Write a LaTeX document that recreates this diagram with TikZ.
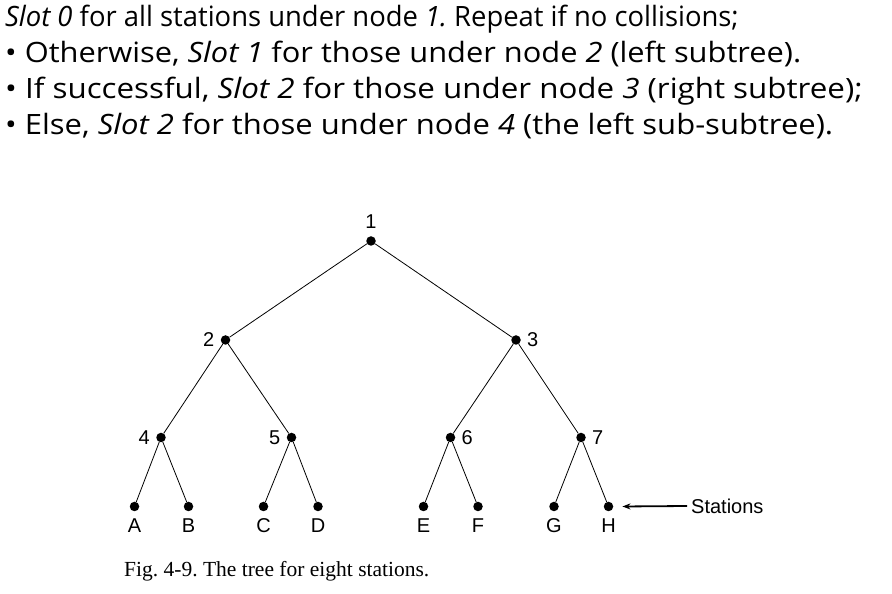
\documentclass[tikz,border=0pt]{standalone}
\usepackage{fontspec}
\setmainfont{Liberation Serif}
\newfontfamily\slidefont[FakeStretch=1.1]{Open Sans}
\newfontfamily\figfont{Liberation Sans}
\usetikzlibrary{arrows.meta,positioning}
\frenchspacing

\tikzset{
  dot/.style={circle,fill=black,inner sep=0pt,minimum size=9.5pt},
  num/.style={font=\figfont\fontsize{20}{20}\selectfont,inner sep=1pt},
  branch/.style={line width=0.8pt},
  slide/.style={anchor=base west,inner sep=0pt,transform shape,font=\slidefont\fontsize{28}{36}\selectfont}
}

\begin{document}
\begin{tikzpicture}[x=1pt,y=1pt,every label/.style={num},label distance=5pt]
\useasboundingbox (0,0) rectangle (892,594);

% slide text
\foreach \t/\w [count=\n] in {
  {\textit{Slot 0} for all stations under node \textit{1.} Repeat if no collisions;}/0.89,
  {\textbullet\ Otherwise, \textit{Slot 1} for those under node \textit{2} (left subtree).}/1,
  {\textbullet\ If successful, \textit{Slot 2} for those under node \textit{3} (right subtree);}/1.017,
  {\textbullet\ Else, \textit{Slot 2} for those under node \textit{4} (the left sub-subtree).}/1.006}
  \node[slide,xscale=\w] (line\n) at (5,603-36*\n) {\t};

% inner nodes
\node[dot,label={[label distance=6pt]above:1}] (n1) at (371,353) {};
\node[dot,label=left:2]  (n2) at (225.5,254) {};
\node[dot,label=right:3] (n3) at (516,254) {};
\node[dot,label=left:4]  (n4) at (161,156.5) {};
\node[dot,label=left:5]  (n5) at (291.5,156.5) {};
\node[dot,label=right:6] (n6) at (450.5,156.5) {};
\node[dot,label=right:7] (n7) at (581,156.5) {};

% stations
\foreach \s/\x in {A/134.5,B/188.5,C/263.5,D/318,E/423.5,F/478,G/554,H/608.5}
  \node[dot,label={[label distance=6pt]below:\s}] (\s) at (\x,87.5) {};

\foreach \a/\b in {n1/n2,n1/n3,n2/n4,n2/n5,n3/n6,n3/n7,n4/A,n4/B,n5/C,n5/D,n6/E,n6/F,n7/G,n7/H}
  \draw[branch] (\a) -- (\b);

\node[num,inner sep=0pt,anchor=west] (st) at (691,88) {Stations};
\draw[line width=1.8pt,-{Stealth[length=8pt,width=6pt]}] ([xshift=-4pt]st.west) -- ([xshift=9pt]H.east);

\node[anchor=base west,inner sep=0pt,font=\fontsize{21.5}{22}\selectfont] (cap) at (124,17)
  {Fig. 4-9. The tree for eight stations.};
\end{tikzpicture}
\end{document}
